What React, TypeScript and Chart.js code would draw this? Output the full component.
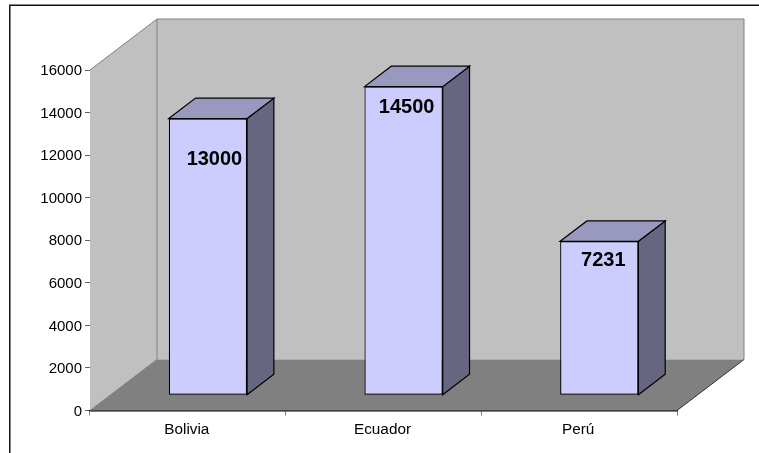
import React, { useEffect, useRef } from "react";
import { Chart, registerables } from "chart.js";

Chart.register(...registerables);

const categories = ["Bolivia", "Ecuador", "Perú"];
const values = [13000, 14500, 7231];
const yMax = 16000;
const yStep = 2000;
const labelShiftX = [6.5, 3, 4];
const labelShiftY = [40.5, 20.5, 19];

const FONT = '"Liberation Sans", Arial, sans-serif';
const WALL_DX = 67;
const WALL_DY = -51;
const BAR_NEAR = 0.3;
const BAR_DEPTH = 0.4;

function poly(ctx: CanvasRenderingContext2D, pts: number[][], fill: string | null, stroke: string | null, lw = 1) {
  ctx.beginPath();
  pts.forEach((p, i) => (i ? ctx.lineTo(p[0], p[1]) : ctx.moveTo(p[0], p[1])));
  ctx.closePath();
  if (fill) {
    ctx.fillStyle = fill;
    ctx.fill();
  }
  if (stroke) {
    ctx.strokeStyle = stroke;
    ctx.lineWidth = lw;
    ctx.stroke();
  }
}

const frame3d = {
  id: "frame3d",
  beforeDraw(chart: any) {
    const { ctx, width, height } = chart;
    ctx.save();
    ctx.fillStyle = "#ffffff";
    ctx.fillRect(0, 0, width, height);
    ctx.strokeStyle = "#111111";
    ctx.lineWidth = 1.5;
    ctx.beginPath();
    ctx.moveTo(width, 5.25);
    ctx.lineTo(9.75, 5.25);
    ctx.lineTo(9.75, height);
    ctx.stroke();
    ctx.restore();
  },
  beforeDatasetsDraw(chart: any) {
    const { ctx, chartArea: a } = chart;
    const { left: l, right: r, top: t, bottom: b } = a;
    const dx = WALL_DX;
    const dy = WALL_DY;
    ctx.save();
    poly(ctx, [[l + dx, t + dy], [r + dx, t + dy], [r + dx, b + dy], [l + dx, b + dy]], "#c0c0c0", null);
    poly(ctx, [[l, t], [l + dx, t + dy], [l + dx, b + dy], [l, b]], "#c0c0c0", null);
    poly(ctx, [[l, b], [r, b], [r + dx, b + dy], [l + dx, b + dy]], "#808080", null);
    ctx.strokeStyle = "#808080";
    ctx.lineWidth = 1;
    ctx.beginPath();
    ctx.moveTo(l, t);
    ctx.lineTo(l + dx, t + dy);
    ctx.lineTo(r + dx, t + dy);
    ctx.lineTo(r + dx, b + dy);
    ctx.moveTo(l + dx, t + dy);
    ctx.lineTo(l + dx, b + dy);
    ctx.lineTo(l, b);
    ctx.stroke();
    ctx.strokeStyle = "#303030";
    ctx.beginPath();
    ctx.moveTo(r + dx, b + dy);
    ctx.lineTo(r, b);
    ctx.stroke();
    ctx.restore();
  },
  beforeDatasetDraw(chart: any, args: any) {
    const { ctx } = chart;
    const meta = chart.getDatasetMeta(args.index);
    const ox = WALL_DX * BAR_NEAR;
    const oy = WALL_DY * BAR_NEAR;
    const ddx = WALL_DX * BAR_DEPTH;
    const ddy = WALL_DY * BAR_DEPTH;
    ctx.save();
    ctx.translate(ox, oy);
    meta.data.forEach((el: any) => {
      const x0 = el.x - el.width / 2;
      const x1 = el.x + el.width / 2;
      const top = el.y;
      const base = el.base;
      poly(ctx, [[x1, top], [x1 + ddx, top + ddy], [x1 + ddx, base + ddy], [x1, base]], "#666680", "#000000", 1.2);
      poly(ctx, [[x0, top], [x0 + ddx, top + ddy], [x1 + ddx, top + ddy], [x1, top]], "#9999c0", "#000000", 1.2);
    });
  },
  afterDatasetDraw(chart: any, args: any) {
    const { ctx } = chart;
    const meta = chart.getDatasetMeta(args.index);
    ctx.restore();
    const ox = WALL_DX * BAR_NEAR;
    const oy = WALL_DY * BAR_NEAR;
    ctx.save();
    ctx.fillStyle = "#000000";
    ctx.font = `bold 20px ${FONT}`;
    ctx.textAlign = "center";
    ctx.textBaseline = "middle";
    meta.data.forEach((el: any, i: number) => {
      ctx.fillText(String(values[i]), el.x + ox + labelShiftX[i], el.y + oy + labelShiftY[i]);
    });
    ctx.restore();
  },
};

export default function App() {
  const ref = useRef<HTMLCanvasElement>(null);
  useEffect(() => {
    const chart = new Chart(ref.current!, {
      type: "bar",
      data: {
        labels: categories,
        datasets: [
          {
            data: values,
            backgroundColor: "#ccccff",
            borderColor: "#000000",
            borderWidth: 1.2,
            borderSkipped: false,
            barPercentage: 0.4,
            categoryPercentage: 1,
          },
        ],
      },
      options: {
        animation: false,
        responsive: false,
        devicePixelRatio: 1,
        layout: { padding: { left: 0, top: 70, right: 82, bottom: 0 } },
        plugins: { legend: { display: false }, title: { display: false }, tooltip: { enabled: false } },
        scales: {
          x: {
            z: 1,
            afterFit: (s: any) => {
              s.height = 42.5;
            },
            grid: { drawOnChartArea: false, drawTicks: true, tickLength: 5, color: "#808080" },
            border: { display: true, color: "#000000", width: 1.5 },
            ticks: { color: "#000000", font: { family: FONT, size: 15.3 }, padding: 5, maxRotation: 0, autoSkip: false, labelOffset: -1 },
          },
          y: {
            z: 1,
            min: 0,
            max: yMax,
            afterFit: (s: any) => {
              s.width = 90;
            },
            grid: { drawOnChartArea: false, drawTicks: true, tickLength: 5, color: "#606060" },
            border: { display: true, color: "#404040", width: 1 },
            ticks: {
              stepSize: yStep,
              color: "#000000",
              font: { family: FONT, size: 15 },
              padding: 3,
              labelOffset: 1,
              callback: (v: any) => String(v),
            },
          },
        },
      },
      plugins: [frame3d],
    } as any);
    return () => chart.destroy();
  }, []);
  return <canvas ref={ref} width={759} height={453} style={{ position: "absolute", left: 0, top: 0, display: "block" }} />;
}
